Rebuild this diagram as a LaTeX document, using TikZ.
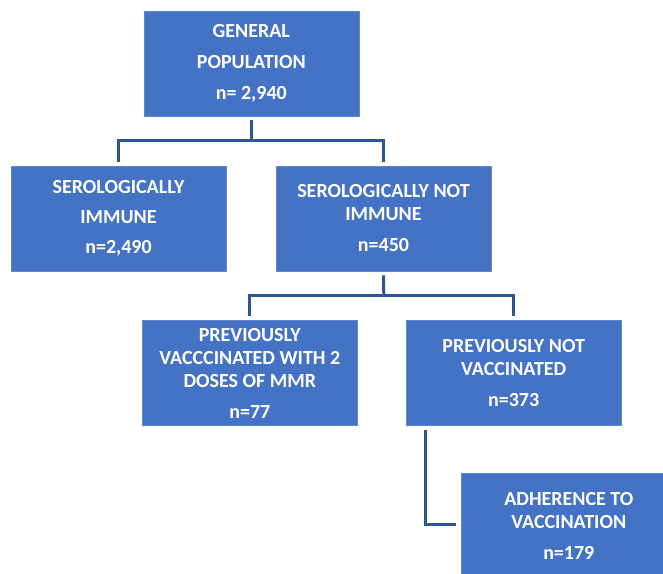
\documentclass[tikz,border=0pt]{standalone}
\usepackage{fontspec}
\setmainfont{Carlito}
\definecolor{boxblue}{HTML}{4472C4}
\definecolor{lineblue}{HTML}{2F5597}
\begin{document}
\begin{tikzpicture}[x=1pt,y=-1pt,
  box/.style={fill=boxblue, draw=boxblue!85!white, line width=0.6pt, minimum width=215pt, minimum height=105pt,
    inner sep=0pt, text=white, align=center, font=\fontsize{20}{23}\selectfont\bfseries},
  conn/.style={draw=lineblue, line width=3pt}]
\useasboundingbox (0,0) rectangle (663,573);
\clip (0,0) rectangle (663,573);
\fill[white] (0,0) rectangle (663,573);
\node[box] (B1) at (251.3,63.5) {GENERAL\\[8pt]POPULATION\\[8pt]n= 2,940};
\node[box] (B2) at (118.5,218.5) {SEROLOGICALLY\\[7pt]IMMUNE\\[7pt]n=2,490};
\node[box] (B3) at (383.5,218.5) {SEROLOGICALLY NOT\\IMMUNE\\[8pt]n=450};
\node[box] (B4) at (249.8,373) {PREVIOUSLY\\VACCCINATED WITH 2\\DOSES OF MMR\\[8pt]n=77};
\node[box] (B5) at (513.7,373) {PREVIOUSLY NOT\\VACCINATED\\[8pt]n=373};
\node[box] (B6) at (568.8,525.5) {ADHERENCE TO\\VACCINATION\\[8pt]n=179};
\coordinate (J1) at (251.3,140.7);
\coordinate (J2) at (383.8,295.5);
\draw[conn] ([yshift=-4pt]B1.south) -- (J1);
\draw[conn] ([yshift=4pt]B2.north) |- (J1) -| ([yshift=4pt]B3.north);
\draw[conn] ([yshift=-4pt]B3.south) -- (J2);
\draw[conn] ([yshift=4pt]B4.north) |- (J2) -| ([yshift=4pt]B5.north);
\draw[conn] ([xshift=20pt,yshift=-4pt]B5.south west) |- ([xshift=-5pt,yshift=1.5pt]B6.west);
\end{tikzpicture}
\end{document}
